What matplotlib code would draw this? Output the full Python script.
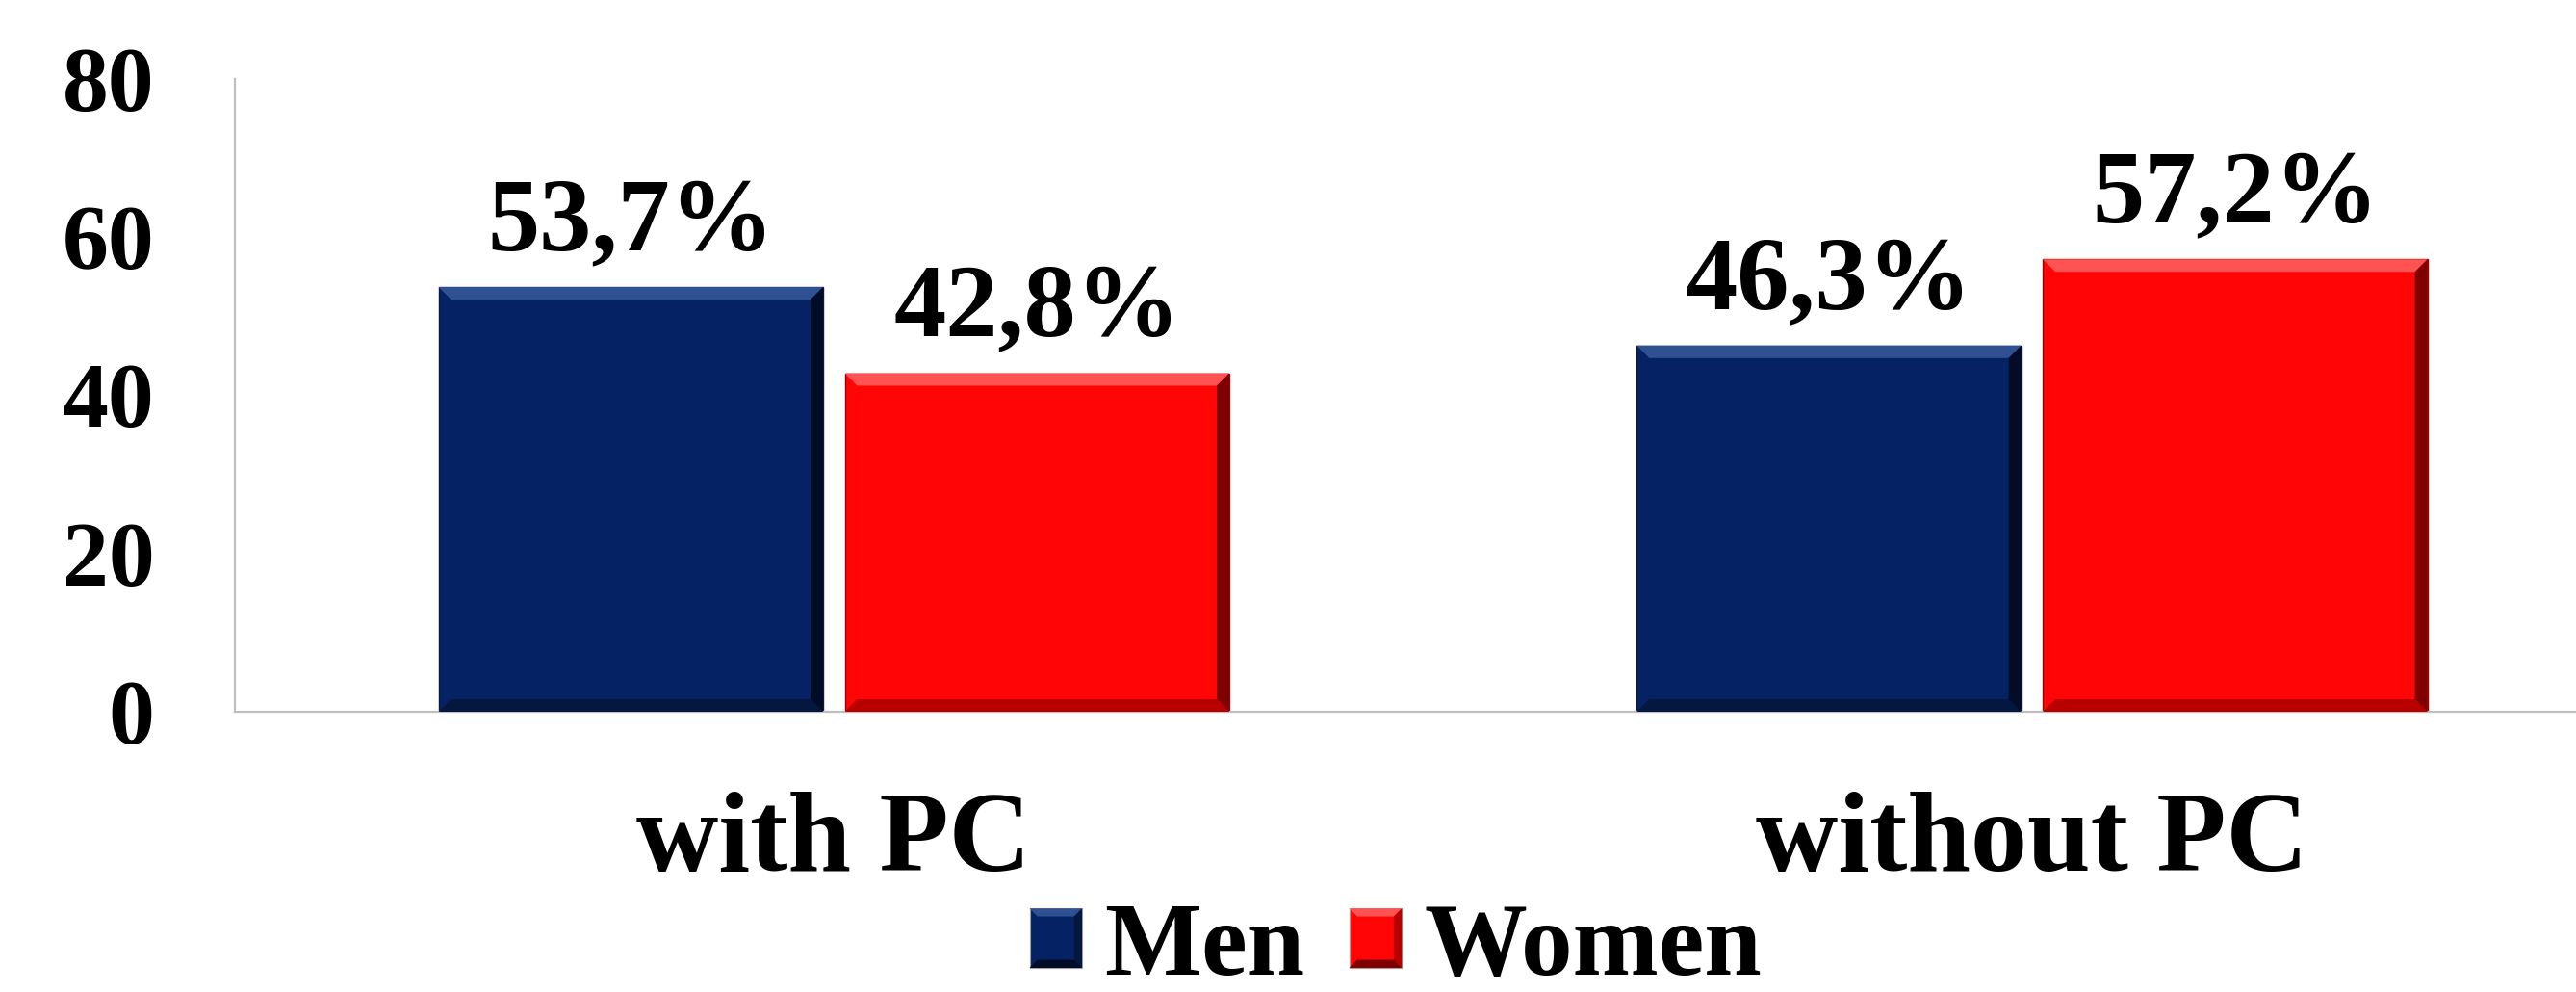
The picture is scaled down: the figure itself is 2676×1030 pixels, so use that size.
import matplotlib
matplotlib.use("Agg")
import matplotlib.pyplot as plt
from matplotlib.patches import Polygon, Rectangle
from matplotlib.legend_handler import HandlerBase
import numpy as np

categories = ["with PC", "without PC"]
series = ["Men", "Women"]
men = [53.7, 46.3]
women = [42.8, 57.2]
value_labels_men = ["53,7%", "46,3%"]
value_labels_women = ["42,8%", "57,2%"]
yticks = [0, 20, 40, 60, 80]

W, H, DPI = 2676, 1030, 100
fig = plt.figure(figsize=(W / DPI, H / DPI), dpi=DPI)
plt.rcParams["font.family"] = ["Liberation Serif", "DejaVu Serif"]
plt.rcParams["font.weight"] = "bold"

ax_left, ax_right, ax_top, ax_bottom = 244, 2676, 82, 739
ax = fig.add_axes([ax_left / W, 1 - ax_bottom / H,
                   (ax_right - ax_left) / W, (ax_bottom - ax_top) / H])
XMIN, XMAX, YMIN, YMAX = -0.5, 1.454, 0, 80
ax.set_xlim(XMIN, XMAX)
ax.set_ylim(YMIN, YMAX)

colors = {"Men": "#052265", "Women": "#FF0505"}
light = {"Men": "#2F5192", "Women": "#FF5252"}
dark = {"Men": "#020C26", "Women": "#7E0000"}
mid_dark = {"Men": "#03173F", "Women": "#B80000"}

x = np.arange(len(categories))
bw = 0.321
off = 0.1695

bars_m = ax.bar(x - off, men, bw, color=colors["Men"], edgecolor="#0B1A3A",
                linewidth=1.0, zorder=2)
bars_w = ax.bar(x + off, women, bw, color=colors["Women"], edgecolor="#9A0000",
                linewidth=1.0, zorder=2)

# pixel -> data conversion for the bevel strips
px_per_x = (ax_right - ax_left) / (XMAX - XMIN)
px_per_y = (ax_bottom - ax_top) / (YMAX - YMIN)
bev = 13


def bevel(axis, x0, y0, w, h, key, bpx):
    bx = bpx / px_per_x
    by = bpx / px_per_y
    x1, y1 = x0 + w, y0 + h
    polys = [
        ([(x0, y1), (x1, y1), (x1 - bx, y1 - by), (x0 + bx, y1 - by)], light[key]),
        ([(x0, y0), (x1, y0), (x1 - bx, y0 + by), (x0 + bx, y0 + by)], mid_dark[key]),
        ([(x1, y0), (x1, y1), (x1 - bx, y1 - by), (x1 - bx, y0 + by)], dark[key]),
    ]
    for pts, c in polys:
        axis.add_patch(Polygon(pts, closed=True, facecolor=c, edgecolor="none",
                               zorder=3))


for key, bars in (("Men", bars_m), ("Women", bars_w)):
    for b in bars:
        bevel(ax, b.get_x(), b.get_y(), b.get_width(), b.get_height(), key, bev)

for bars, labels in ((bars_m, value_labels_men), (bars_w, value_labels_women)):
    for b, lab in zip(bars, labels):
        ax.annotate(lab, (b.get_x() + b.get_width() / 2, b.get_height()),
                    xytext=(0, 28), textcoords="offset points",
                    ha="center", va="baseline", fontsize=78, fontweight="bold",
                    color="black", zorder=4)

for s in ("top", "right"):
    ax.spines[s].set_visible(False)
for s in ("left", "bottom"):
    ax.spines[s].set_color("#BFBFBF")
    ax.spines[s].set_linewidth(1.6)

ax.set_yticks(yticks)
ax.set_yticklabels([str(v) for v in yticks], fontsize=69, fontweight="bold")
ax.tick_params(axis="y", length=0, pad=60)
ax.set_xticks(x)
ax.set_xticklabels(categories, fontsize=85, fontweight="bold")
ax.tick_params(axis="x", length=0, pad=60)


class BevelHandler(HandlerBase):
    def __init__(self, key):
        super().__init__()
        self.key = key

    def create_artists(self, legend, orig_handle, xdescent, ydescent, width,
                       height, fontsize, trans):
        k = self.key
        x0, y0 = -xdescent, -ydescent
        x1, y1 = x0 + width, y0 + height
        b = 6
        arts = [Rectangle((x0, y0), width, height, facecolor=colors[k],
                          edgecolor="#A0A0A0", linewidth=0.8, transform=trans)]
        for pts, c in (
            ([(x0, y1), (x1, y1), (x1 - b, y1 - b), (x0 + b, y1 - b)], light[k]),
            ([(x0, y0), (x1, y0), (x1 - b, y0 + b), (x0 + b, y0 + b)], dark[k]),
            ([(x1, y0), (x1, y1), (x1 - b, y1 - b), (x1 - b, y0 + b)], mid_dark[k]),
        ):
            arts.append(Polygon(pts, closed=True, facecolor=c, edgecolor="none",
                                transform=trans))
        return arts


h_m = Rectangle((0, 0), 1, 1)
h_w = Rectangle((0, 0), 1, 1)
fig.legend([h_m, h_w], series, loc="center", bbox_to_anchor=(1450 / W, 1 - 986 / H),
           ncol=2, frameon=False, prop={"size": 77, "weight": "bold"},
           handlelength=0.51, handleheight=0.51, handletextpad=0.22,
           columnspacing=0.43, borderpad=0,
           handler_map={h_m: BevelHandler("Men"), h_w: BevelHandler("Women")})

fig.savefig("out.png", dpi=DPI, facecolor="white")
